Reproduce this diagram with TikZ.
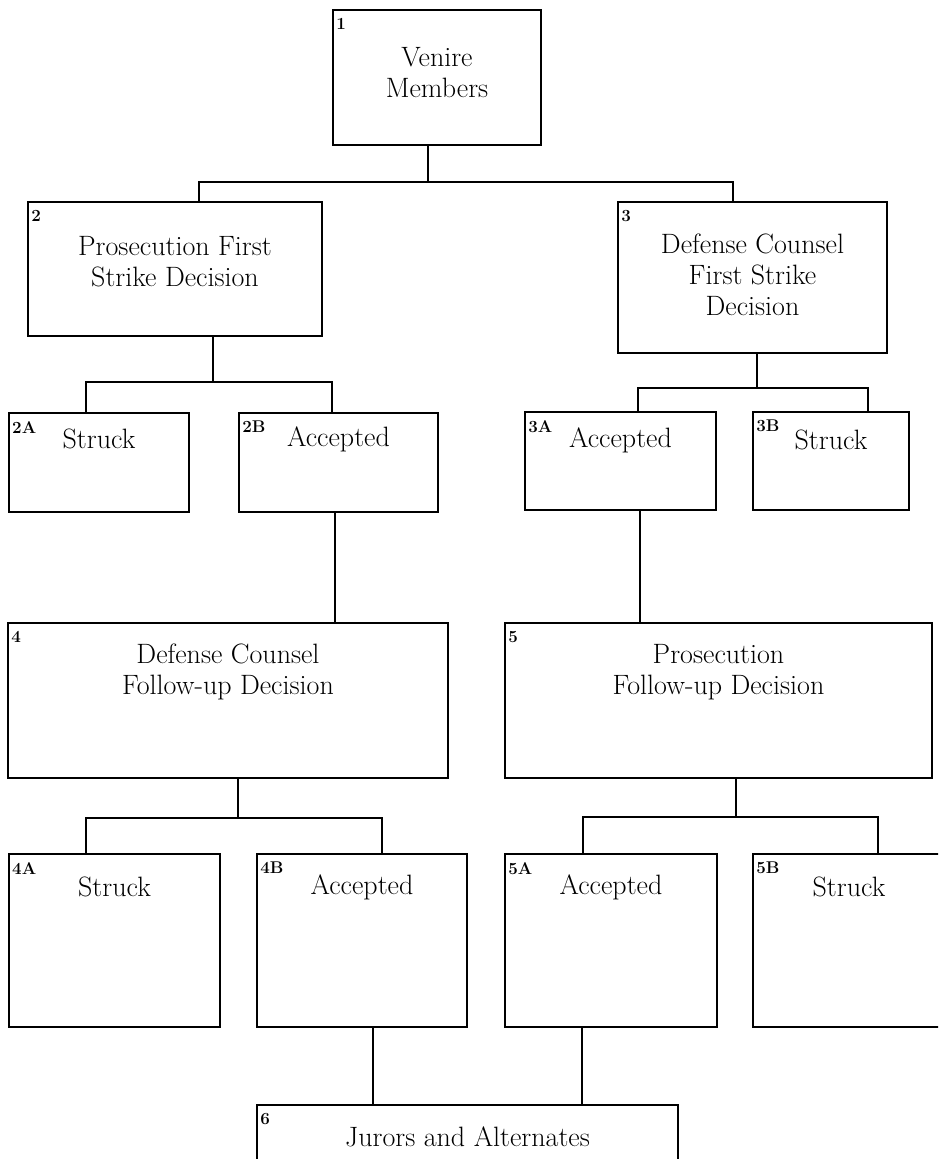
\documentclass[tikz,border=0pt]{standalone}
\usepackage{fontspec}
\usepackage{tikz}
\usetikzlibrary{calc}

\begin{document}
\begin{tikzpicture}[x=1pt, y=-1pt,
    box/.style={draw, line width=1.9pt, inner sep=0pt},
    tag/.style={anchor=north west, inner sep=0pt, font=\fontsize{17}{18}\selectfont\bfseries},
    title/.style={align=center, inner sep=0pt, font=\fontsize{28}{31}\selectfont},
    link/.style={line width=1.9pt}]

  \useasboundingbox (0,0) rectangle (938,1159);
  \clip (0,0) rectangle (938,1159);

  % Boxes: name / centre x / centre y / width / height
  \foreach \n/\x/\y/\w/\h in {b1/437/77.5/208/135,
      b2/175/269/294/134, b3/752.5/277.5/269/151,
      b2a/99/462.5/180/99, b2b/338.5/462.5/199/99,
      b3a/620.5/461/191/98, b3b/831/461/156/98,
      b4/228/700.5/440/155, b5/718.5/700.5/427/155,
      b4a/114.5/940.5/211/173, b4b/362/940.5/210/173,
      b5a/611/940.5/212/173, b5b/849/940.5/192/173,
      b6/467.5/1152.5/421/95}
    \node[box, minimum width=\w, minimum height=\h] (\n) at (\x,\y) {};

  % Numbers in the top left corners
  \foreach \n/\t in {b1/1, b2/2, b3/3, b2a/2A, b2b/2B, b3a/3A, b3b/3B,
      b4/4, b5/5, b4a/4A, b4b/4B, b5a/5A, b5b/5B, b6/6}
    \node[tag] (tag-\n) at ($(\n.north west)+(4,9)$) {\t};

  % Titles
  \node[title] (t1) at ($(b1.north)+(0,63)$) {Venire\\Members};
  \node[title] (t2) at ($(b2.north)+(0,61)$) {Prosecution First\\Strike Decision};
  \node[title] (t3) at ($(b3.north)+(0,74)$) {Defense Counsel\\First Strike\\Decision};
  \node[title] (t2a) at ($(b2a.north)+(0,27)$) {Struck};
  \node[title] (t2b) at ($(b2b.north)+(0,27)$) {Accepted};
  \node[title] (t3a) at ($(b3a.north)+(0,29)$) {Accepted};
  \node[title] (t3b) at ($(b3b.north)+(0,29)$) {Struck};
  \node[title] (t4) at ($(b4.north)+(0,50)$) {Defense Counsel\\Follow-up Decision};
  \node[title] (t5) at ($(b5.north)+(0,50)$) {Prosecution\\Follow-up Decision};
  \node[title] (t4a) at ($(b4a.north)+(0,34)$) {Struck};
  \node[title] (t4b) at ($(b4b.north)+(0,34)$) {Accepted};
  \node[title] (t5a) at ($(b5a.north)+(0,34)$) {Accepted};
  \node[title] (t5b) at ($(b5b.north)+(0,34)$) {Struck};
  \node[title] (t6) at ($(b6.north)+(0,33)$) {Jurors and Alternates};

  % Fork below box 1
  \coordinate (j1) at (428,182);
  \coordinate (l1) at (199,182);
  \coordinate (r1) at (733,182);
  \draw[link] (j1 |- b1.south) -- (j1);
  \draw[link] (l1 |- b2.north) -- (l1) -- (r1) -- (r1 |- b3.north);

  % Forks below boxes 2 and 3
  \coordinate (j2) at (213,382);
  \coordinate (l2) at (86,382);
  \coordinate (r2) at (332,382);
  \draw[link] (j2 |- b2.south) -- (j2);
  \draw[link] (l2 |- b2a.north) -- (l2) -- (r2) -- (r2 |- b2b.north);
  \coordinate (j3) at (757,388);
  \coordinate (l3) at (638,388);
  \coordinate (r3) at (868,388);
  \draw[link] (j3 |- b3.south) -- (j3);
  \draw[link] (l3 |- b3a.north) -- (l3) -- (r3) -- (r3 |- b3b.north);

  % Accepted -> follow-up decisions
  \coordinate (k4) at (335,0);
  \coordinate (k5) at (640,0);
  \draw[link] (k4 |- b2b.south) -- (k4 |- b4.north);
  \draw[link] (k5 |- b3a.south) -- (k5 |- b5.north);

  % Forks below boxes 4 and 5
  \coordinate (j4) at (238,818);
  \coordinate (l4) at (86,818);
  \coordinate (r4) at (382,818);
  \draw[link] (j4 |- b4.south) -- (j4);
  \draw[link] (l4 |- b4a.north) -- (l4) -- (r4) -- (r4 |- b4b.north);
  \coordinate (j5) at (736,817);
  \coordinate (l5) at (583,817);
  \coordinate (r5) at (878,817);
  \draw[link] (j5 |- b5.south) -- (j5);
  \draw[link] (l5 |- b5a.north) -- (l5) -- (r5) -- (r5 |- b5b.north);

  % Accepted -> jurors
  \coordinate (k6) at (373,0);
  \coordinate (k7) at (582,0);
  \draw[link] (k6 |- b4b.south) -- (k6 |- b6.north);
  \draw[link] (k7 |- b5a.south) -- (k7 |- b6.north);

\end{tikzpicture}
\end{document}
